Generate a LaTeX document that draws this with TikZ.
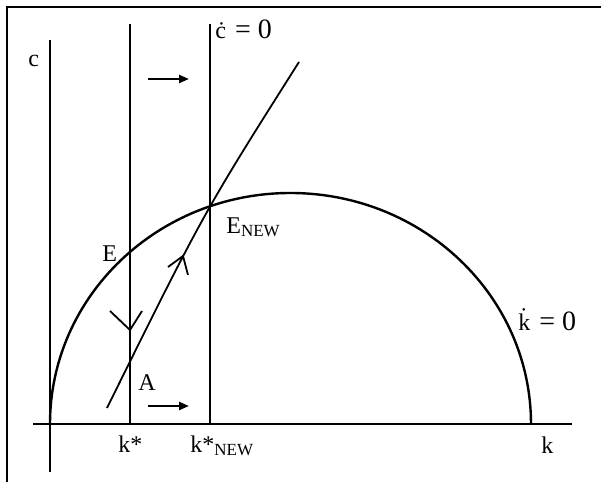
\documentclass[tikz,border=0pt]{standalone}
\usepackage{fontspec}
\setmainfont{Liberation Serif}
\usetikzlibrary{arrows.meta}
\newcommand{\sub}[1]{\raisebox{-0.35ex}{\fontsize{8.5}{10}\selectfont #1}}
\newcommand{\eqz}{\hspace{4.5pt}{\fontsize{14}{16}\selectfont=\hspace{3.5pt}0}}

\begin{document}
\begin{tikzpicture}[x=0.5pt, y=-0.5pt, >={Triangle[length=5pt, width=4pt]},
  font=\fontsize{12}{14}\selectfont,
  lbl/.style={inner sep=0pt, anchor=base west},
  thin line/.style={line width=0.9pt},
  thick line/.style={line width=1.2pt}]
  \useasboundingbox (0,0) rectangle (601,482);
  \coordinate (O) at (50,424);
  \coordinate (Ks) at (130,424);
  \coordinate (Kn) at (210,424);
  \coordinate (Kmax) at (531,424);
  \coordinate (S0) at (107,408);
  \coordinate (S1) at (299,62);

  % frame
  \draw[thick line] (7,482) -- (7,7) -- (601,7);

  % axes and the two cdot = 0 lines
  \draw[thin line] (33,424) -- (572,424);
  \draw[thin line] (50,472) -- (50,40);
  \draw[thin line] (Ks) -- (130,24);
  \draw[thin line] (Kn) -- (210,24);

  % kdot = 0
  \draw[thick line] (O) arc[start angle=180, end angle=360, x radius=240.5, y radius=231];

  % saddle path
  \draw[thin line] (S0) .. controls (204,212) .. (S1);

  % direction marks
  \draw[thin line] (168,267) -- (183,256) -- (188,275);
  \draw[thin line] (110,311) -- (130,330) -- (142,311);
  \draw[->, thick line] (148,79) -- (189,79);
  \draw[->, thick line] (148,406) -- (189,406);

  % labels
  \node[lbl] (cLab) at (28,67) {c};
  \node[lbl] (cdot) at (215,39) {\.{c}\eqz};
  \node[lbl] (kdot) at (518,330) {\.{k}\eqz};
  \node[lbl] (E) at (102,261) {E};
  \node[lbl] (Enew) at (226,233) {E\sub{NEW}};
  \node[lbl] (A) at (138,390) {A};
  \node[lbl] (ksLab) at (118,452) {k*};
  \node[lbl] (knLab) at (190,452) {k*\sub{NEW}};
  \node[lbl] (kLab) at (541,453) {k};
\end{tikzpicture}
\end{document}
